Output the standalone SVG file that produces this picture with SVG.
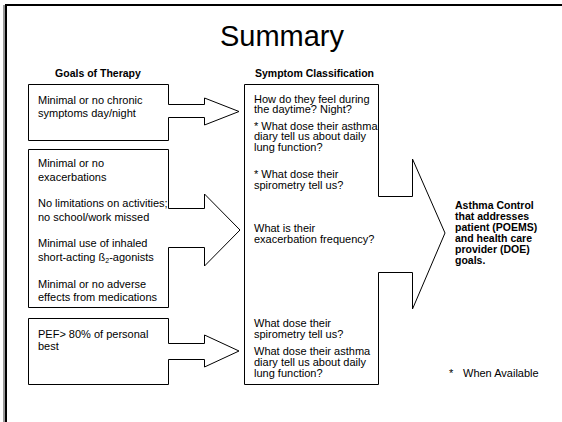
<svg xmlns="http://www.w3.org/2000/svg" width="562" height="422" viewBox="0 0 562 422">
<style>
.shape{fill:#fff;stroke:#000;stroke-width:1;stroke-linejoin:miter}
.t{font-family:"Liberation Sans",Arial,sans-serif;font-size:11px;fill:#000}
.b{font-family:"Liberation Sans",Arial,sans-serif;font-size:10.5px;font-weight:bold;fill:#000}
.title{font-family:"Liberation Sans",Arial,sans-serif;font-size:29px;fill:#000}
</style>
<rect x="0" y="0" width="562" height="422" fill="#fff"/>
<g id="frame">
<rect x="3" y="5" width="2" height="417" fill="#999"/>
<rect x="5" y="4" width="2" height="418" fill="#000"/>
<rect x="5" y="4" width="557" height="2" fill="#000"/>
</g>
<g id="title"><text class="title" x="282" y="46" text-anchor="middle">Summary</text></g>
<g id="headers">
<text class="b" x="98" y="77" text-anchor="middle">Goals of Therapy</text>
<text class="b" x="255" y="77">Symptom Classification</text>
</g>
<g id="connectors"></g>
<g id="goal1">
<polygon class="shape" points="28.5,84.5 168.5,84.5 168.5,104.5 204.5,104.5 204.5,98 239,111.5 204.5,125 204.5,117.5 168.5,117.5 168.5,140.5 28.5,140.5"/>
<text class="t" x="38" y="104">Minimal or no chronic</text>
<text class="t" x="38" y="116.5">symptoms day/night</text>
</g>
<g id="goal2">
<polygon class="shape" points="28.5,149.5 168.5,149.5 168.5,208.5 204.5,208.5 204.5,194 240,230 204.5,266 204.5,247.5 168.5,247.5 168.5,307.5 28.5,307.5"/>
<text class="t" x="38" y="167">Minimal or no</text>
<text class="t" x="38" y="181">exacerbations</text>
<text class="t" x="38" y="206.5">No limitations on activities;</text>
<text class="t" x="38" y="220.5">no school/work missed</text>
<text class="t" x="38" y="247">Minimal use of inhaled</text>
<text class="t" x="38" y="261">short-acting ß<tspan font-size="7" dy="2">2</tspan><tspan dy="-2">-agonists</tspan></text>
<text class="t" x="38" y="287.5">Minimal or no adverse</text>
<text class="t" x="38" y="300.5">effects from medications</text>
</g>
<g id="goal3">
<polygon class="shape" points="28.5,318.5 168.5,318.5 168.5,343.5 204.5,343.5 204.5,335 239,351 204.5,367 204.5,359.5 168.5,359.5 168.5,384.5 28.5,384.5"/>
<text class="t" x="38" y="338">PEF&gt; 80% of personal</text>
<text class="t" x="38" y="350">best</text>
</g>
<g id="symptoms">
<polygon class="shape" points="244.5,84.5 378.5,84.5 378.5,196.5 412.5,196.5 412.5,159 445,233 412.5,309 412.5,272.5 378.5,272.5 378.5,384.5 244.5,384.5"/>
<text class="t" x="254" y="102.5">How do they feel during</text>
<text class="t" x="254" y="113.3">the daytime? Night?</text>
<text class="t" x="254" y="129.5">* What dose their asthma</text>
<text class="t" x="254" y="140.2">diary tell us about daily</text>
<text class="t" x="254" y="151">lung function?</text>
<text class="t" x="254" y="178">* What dose their</text>
<text class="t" x="254" y="188.8">spirometry tell us?</text>
<text class="t" x="254" y="232">What is their</text>
<text class="t" x="254" y="243">exacerbation frequency?</text>
<text class="t" x="254" y="327">What dose their</text>
<text class="t" x="254" y="337.8">spirometry tell us?</text>
<text class="t" x="254" y="355">What dose their asthma</text>
<text class="t" x="254" y="365.8">diary tell us about daily</text>
<text class="t" x="254" y="376.6">lung function?</text>
</g>
<g id="control">
<text class="b" x="455" y="209">Asthma Control</text>
<text class="b" x="455" y="220">that addresses</text>
<text class="b" x="455" y="231">patient (POEMS)</text>
<text class="b" x="455" y="242">and health care</text>
<text class="b" x="455" y="253">provider (DOE)</text>
<text class="b" x="455" y="264">goals.</text>
</g>
<g id="note">
<text class="t" x="449" y="377" font-size="22">*</text>
<text class="t" x="463" y="377">When Available</text>
</g>
</svg>
